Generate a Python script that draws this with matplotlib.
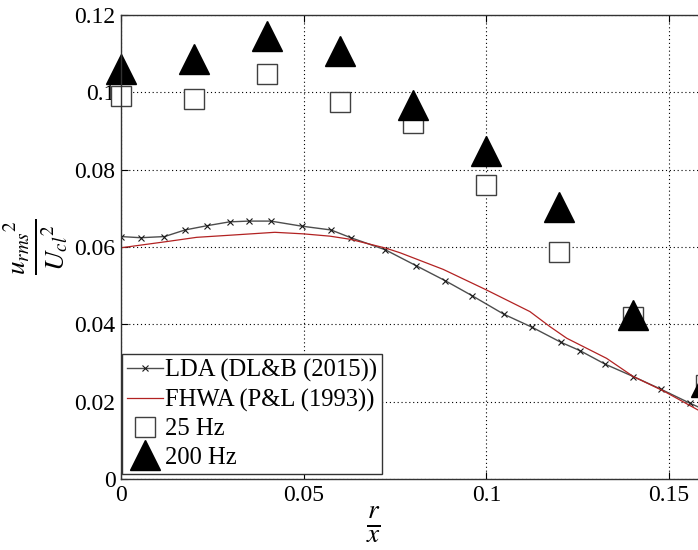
import matplotlib
matplotlib.use("Agg")
import matplotlib.pyplot as plt

plt.rcParams['font.family'] = ['Liberation Serif', 'DejaVu Serif']
plt.rcParams['mathtext.fontset'] = 'stix'

# LDA (DL&B 2015)
lda_x = [0.0, 0.0054, 0.0119, 0.0175, 0.0235, 0.0297, 0.0349, 0.0410, 0.0494, 0.0575,
         0.0629, 0.0723, 0.0807, 0.0887, 0.0961, 0.1048, 0.1126, 0.1203, 0.1256,
         0.1325, 0.1402, 0.1478, 0.1557, 0.1635]
lda_y = [0.0627, 0.0624, 0.0627, 0.0644, 0.0655, 0.0665, 0.0667, 0.0667, 0.0654, 0.0644,
         0.0624, 0.0593, 0.0552, 0.0513, 0.0474, 0.0426, 0.0392, 0.0354, 0.0332,
         0.0297, 0.0265, 0.0232, 0.0196, 0.0163]

# FHWA (P&L 1993)
fhwa_x = [0.0, 0.0125, 0.0207, 0.0307, 0.0421, 0.0499, 0.0572, 0.0627, 0.0725, 0.0764,
          0.0882, 0.1000, 0.1119, 0.1174, 0.1220, 0.1329, 0.1402, 0.1484, 0.1580, 0.1680]
fhwa_y = [0.0598, 0.0614, 0.0625, 0.0631, 0.0638, 0.0634, 0.0628, 0.0620, 0.0597, 0.0585,
          0.0542, 0.0489, 0.0433, 0.0394, 0.0364, 0.0312, 0.0265, 0.0228, 0.0178, 0.0130]

# 25 Hz and 200 Hz
hz_x = [0.0, 0.02, 0.04, 0.06, 0.08, 0.10, 0.12, 0.14, 0.16]
hz25_y = [0.0991, 0.0982, 0.1048, 0.0974, 0.0921, 0.0761, 0.0587, 0.0420, 0.0243]
hz200_y = [0.1061, 0.1085, 0.1145, 0.1107, 0.0968, 0.0849, 0.0704, 0.0425, 0.0251]

xticks = [0, 0.05, 0.1, 0.15]
xticklabels = ['0', '0.05', '0.1', '0.15']
yticks = [0, 0.02, 0.04, 0.06, 0.08, 0.10, 0.12]
yticklabels = ['0', '0.02', '0.04', '0.06', '0.08', '0.1', '0.12']

W, H = 698, 550
fig = plt.figure(figsize=(W / 100, H / 100), dpi=100)
px_per_unit = 3654.0
xmax = 0.2
ax = fig.add_axes([121 / W, (H - 479) / H, xmax * px_per_unit / W, 464 / H])

ax.plot(lda_x, lda_y, color='0.3', lw=1.0, marker='x', ms=5, mec='0.1', mew=0.8,
        label='LDA (DL&B (2015))')
ax.plot(fhwa_x, fhwa_y, color='#b22222', lw=0.9, label='FHWA (P&L (1993))')
ax.plot(hz_x, hz25_y, ls='none', marker='s', ms=14.5, mfc='white', mec='0.25', mew=1.0,
        label='25 Hz', clip_on=False)
ax.plot(hz_x, hz200_y, ls='none', marker='^', ms=21, mfc='black', mec='black',
        label='200 Hz', clip_on=False)

ax.set_xlim(0, xmax)
ax.set_ylim(0, 0.12)
ax.set_xticks(xticks)
ax.set_xticklabels(xticklabels)
ax.set_yticks(yticks)
ax.set_yticklabels(yticklabels)
ax.tick_params(direction='in', length=5, labelsize=17, top=True, right=True, pad=4)
ax.grid(True, color='black', linestyle=(0, (1, 2.5)), lw=0.8)
for s in ax.spines.values():
    s.set_color('0.2')
    s.set_linewidth(1.0)

leg = ax.legend(loc='lower left', bbox_to_anchor=(0.0015, 0.011), borderaxespad=0,
                fontsize=17.7, handlelength=1.45, handletextpad=0.1, labelspacing=0.26,
                borderpad=0.2, fancybox=False, framealpha=1, edgecolor='0.2')
leg.get_frame().set_linewidth(1.0)

fig.text(36 / W, (H - 247) / H, r'$\frac{{u_{rms}}^{2}}{{U_{cl}}^{2}}$', rotation=90,
         ha='center', va='center', fontsize=28)
fig.text(373 / W, (H - 525) / H, r'$\frac{r}{x}$', ha='center', va='center', fontsize=28)

fig.savefig('out.png', dpi=100)
